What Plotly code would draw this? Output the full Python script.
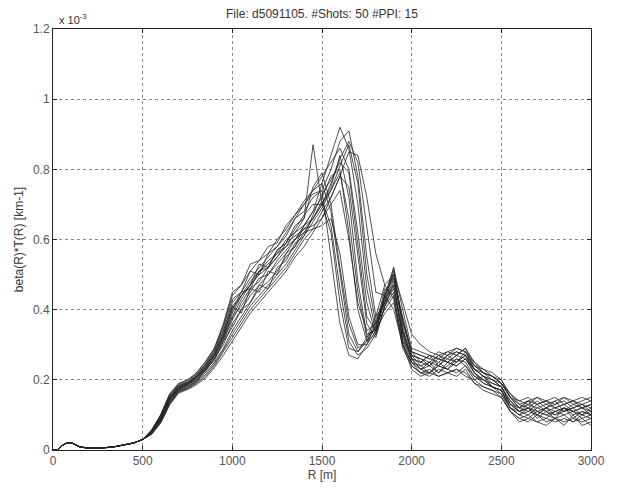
import plotly.graph_objects as go

# Range grid (m)
R_near = [0, 25, 50, 75, 100, 125, 150, 200, 250, 300, 350, 400, 450, 500]
R_far = list(range(550, 3001, 50))

# Near-range signal common to all shots (units of 1e-3 km^-1)
near_vals = [0.0, 0.0, 0.012, 0.020, 0.021, 0.016, 0.009, 0.005, 0.005, 0.007, 0.010, 0.014, 0.020, 0.030]

# Per-shot profiles from 550 m to 3000 m (units of 1e-3 km^-1)
shot_A1 = [0.055,0.098,0.155,0.185,0.195,0.215,0.245,0.285,0.35,0.43,0.45,0.51,0.50,0.56,0.58,0.61,0.66,0.68,0.72,
           0.74,0.55,0.36,0.27,0.26,0.30,0.36,0.44,0.40,0.30,0.25,
           0.24,0.22,0.25,0.23,0.26,0.25,0.21,0.20,0.18,0.17,0.12,0.10,0.12,0.09,0.11,0.09,0.12,0.09,0.11,0.10]
shot_A2 = [0.05,0.09,0.148,0.178,0.19,0.205,0.235,0.275,0.33,0.40,0.45,0.46,0.51,0.52,0.57,0.59,0.63,0.67,0.70,
           0.70,0.62,0.42,0.29,0.28,0.32,0.38,0.47,0.43,0.29,0.24,
           0.22,0.23,0.21,0.22,0.23,0.21,0.20,0.18,0.17,0.16,0.11,0.09,0.08,0.10,0.08,0.09,0.07,0.10,0.07,0.08]
shot_A3 = [0.048,0.085,0.14,0.172,0.185,0.20,0.225,0.26,0.31,0.37,0.42,0.46,0.48,0.52,0.55,0.58,0.62,0.64,0.68,
           0.76,0.68,0.50,0.33,0.28,0.31,0.35,0.42,0.46,0.33,0.26,
           0.25,0.27,0.24,0.27,0.25,0.28,0.23,0.21,0.20,0.18,0.14,0.12,0.14,0.11,0.12,0.14,0.11,0.12,0.13,0.12]
shot_B1 = [0.052,0.092,0.15,0.18,0.19,0.21,0.24,0.27,0.32,0.38,0.41,0.45,0.49,0.50,0.54,0.57,0.60,0.64,0.68,
           0.72,0.78,0.80,0.62,0.40,0.31,0.33,0.45,0.49,0.31,0.27,
           0.26,0.25,0.27,0.26,0.28,0.27,0.24,0.22,0.21,0.19,0.15,0.13,0.12,0.14,0.12,0.13,0.14,0.12,0.13,0.11]
shot_B2 = [0.046,0.082,0.135,0.168,0.178,0.195,0.22,0.25,0.29,0.34,0.38,0.42,0.46,0.48,0.51,0.55,0.58,0.62,0.66,
           0.70,0.75,0.84,0.72,0.48,0.33,0.34,0.43,0.52,0.35,0.26,
           0.23,0.24,0.22,0.25,0.24,0.26,0.22,0.19,0.18,0.17,0.13,0.11,0.10,0.12,0.11,0.10,0.12,0.11,0.10,0.12]
shot_B3 = [0.045,0.078,0.13,0.165,0.175,0.19,0.21,0.24,0.28,0.32,0.36,0.40,0.43,0.46,0.49,0.52,0.56,0.60,0.63,
           0.68,0.72,0.78,0.75,0.55,0.36,0.32,0.41,0.48,0.38,0.28,
           0.27,0.26,0.28,0.27,0.29,0.28,0.25,0.23,0.22,0.20,0.16,0.14,0.15,0.13,0.14,0.15,0.13,0.14,0.15,0.14]
shot_B4 = [0.05,0.088,0.145,0.175,0.188,0.205,0.232,0.268,0.32,0.39,0.44,0.47,0.51,0.53,0.56,0.60,0.62,0.66,0.87,
           0.70,0.74,0.79,0.66,0.45,0.32,0.35,0.46,0.44,0.30,0.25,
           0.22,0.21,0.23,0.22,0.21,0.23,0.19,0.18,0.17,0.15,0.11,0.09,0.10,0.08,0.09,0.08,0.09,0.08,0.09,0.07]
shot_C1 = [0.056,0.10,0.158,0.188,0.198,0.218,0.25,0.29,0.355,0.44,0.47,0.51,0.54,0.56,0.60,0.63,0.67,0.70,0.73,
           0.74,0.80,0.88,0.91,0.78,0.55,0.38,0.42,0.51,0.36,0.28,
           0.25,0.27,0.26,0.25,0.27,0.29,0.24,0.22,0.20,0.19,0.15,0.12,0.13,0.12,0.13,0.12,0.11,0.13,0.12,0.13]
shot_C2 = [0.058,0.10,0.16,0.19,0.20,0.22,0.252,0.29,0.36,0.45,0.47,0.53,0.54,0.58,0.59,0.64,0.67,0.71,0.74,
           0.76,0.84,0.92,0.86,0.70,0.46,0.34,0.44,0.50,0.34,0.27,
           0.24,0.25,0.24,0.26,0.25,0.27,0.23,0.21,0.19,0.18,0.14,0.11,0.12,0.10,0.12,0.11,0.12,0.10,0.11,0.10]
shot_C3 = [0.047,0.083,0.138,0.17,0.18,0.198,0.226,0.26,0.30,0.36,0.40,0.44,0.47,0.50,0.53,0.56,0.60,0.63,0.66,
           0.70,0.76,0.83,0.88,0.82,0.64,0.45,0.44,0.52,0.40,0.29,
           0.28,0.27,0.26,0.28,0.27,0.29,0.25,0.22,0.21,0.19,0.16,0.13,0.14,0.15,0.13,0.14,0.15,0.13,0.14,0.15]
shot_C4 = [0.045,0.076,0.128,0.162,0.172,0.186,0.205,0.235,0.27,0.31,0.35,0.39,0.42,0.45,0.48,0.51,0.55,0.58,0.62,
           0.66,0.72,0.78,0.85,0.84,0.72,0.56,0.47,0.50,0.42,0.33,
           0.30,0.28,0.27,0.28,0.29,0.28,0.24,0.23,0.21,0.20,0.15,0.12,0.14,0.13,0.14,0.12,0.13,0.14,0.12,0.13]
shot_M1 = [0.049,0.087,0.143,0.174,0.186,0.202,0.23,0.265,0.315,0.38,0.43,0.47,0.50,0.52,0.55,0.59,0.61,0.63,0.64,
           0.66,0.70,0.74,0.60,0.42,0.34,0.36,0.40,0.44,0.31,0.24,
           0.22,0.22,0.24,0.23,0.22,0.24,0.21,0.19,0.18,0.16,0.12,0.10,0.09,0.11,0.10,0.09,0.10,0.08,0.10,0.09]
shot_M2 = [0.051,0.09,0.147,0.177,0.189,0.207,0.236,0.272,0.325,0.40,0.44,0.48,0.51,0.54,0.56,0.58,0.60,0.62,0.63,
           0.64,0.66,0.56,0.38,0.30,0.30,0.34,0.39,0.42,0.30,0.23,
           0.21,0.22,0.21,0.22,0.23,0.22,0.19,0.17,0.16,0.15,0.11,0.08,0.09,0.08,0.07,0.09,0.08,0.09,0.08,0.09]
shot_M3 = [0.054,0.095,0.152,0.183,0.193,0.212,0.243,0.28,0.34,0.42,0.45,0.49,0.52,0.55,0.58,0.62,0.66,0.70,0.74,
           0.78,0.82,0.86,0.80,0.62,0.42,0.33,0.41,0.47,0.33,0.26,
           0.25,0.24,0.26,0.25,0.24,0.26,0.22,0.20,0.19,0.18,0.13,0.11,0.12,0.11,0.10,0.11,0.12,0.11,0.12,0.11]
shot_D1 = [0.05,0.088,0.14,0.176,0.184,0.21,0.228,0.27,0.33,0.41,0.39,0.46,0.45,0.51,0.50,0.56,0.58,0.64,0.66,
           0.71,0.64,0.46,0.31,0.27,0.29,0.33,0.41,0.45,0.34,0.26,
           0.23,0.25,0.22,0.24,0.26,0.24,0.20,0.21,0.18,0.17,0.12,0.11,0.13,0.10,0.12,0.10,0.11,0.12,0.10,0.11]
shot_D2 = [0.048,0.084,0.14,0.17,0.183,0.196,0.23,0.255,0.31,0.35,0.40,0.42,0.47,0.46,0.52,0.54,0.59,0.61,0.67,
           0.73,0.77,0.82,0.79,0.58,0.38,0.34,0.44,0.50,0.37,0.27,
           0.26,0.24,0.27,0.25,0.27,0.26,0.23,0.21,0.20,0.18,0.13,0.12,0.11,0.13,0.11,0.12,0.13,0.11,0.12,0.10]
shot_D3 = [0.053,0.094,0.15,0.182,0.192,0.21,0.24,0.28,0.34,0.41,0.44,0.47,0.53,0.52,0.57,0.59,0.64,0.66,0.75,
           0.79,0.70,0.52,0.36,0.29,0.31,0.37,0.43,0.47,0.32,0.25,
           0.23,0.22,0.24,0.23,0.25,0.27,0.22,0.20,0.18,0.17,0.12,0.10,0.11,0.10,0.09,0.11,0.10,0.11,0.09,0.10]
shot_D4 = [0.047,0.08,0.133,0.166,0.176,0.192,0.215,0.245,0.285,0.33,0.37,0.41,0.44,0.47,0.50,0.53,0.57,0.61,0.65,
           0.69,0.74,0.81,0.87,0.76,0.50,0.36,0.42,0.49,0.37,0.28,
           0.27,0.26,0.25,0.27,0.28,0.27,0.23,0.22,0.21,0.19,0.15,0.14,0.13,0.15,0.14,0.13,0.15,0.14,0.13,0.14]

shots = [shot_A1, shot_A2, shot_A3, shot_B1, shot_B2, shot_B3, shot_B4,
         shot_C1, shot_C2, shot_C3, shot_C4, shot_M1, shot_M2, shot_M3,
         shot_D1, shot_D2, shot_D3, shot_D4]

y_ticks = [0, 0.2, 0.4, 0.6, 0.8, 1.0, 1.2]
y_tick_labels = ["0", "0.2", "0.4", "0.6", "0.8", "1", "1.2"]
x_ticks = [0, 500, 1000, 1500, 2000, 2500, 3000]

fig = go.Figure()
for s in shots:
    fig.add_trace(go.Scatter(
        x=R_near + R_far, y=near_vals + s, mode="lines",
        line=dict(color="#262626", width=0.8), showlegend=False, hoverinfo="skip"))

font = "Liberation Sans, Arial, sans-serif"
axis_common = dict(
    showline=True, linecolor="#222", linewidth=1, mirror="ticks",
    ticks="inside", ticklen=4, tickcolor="#222",
    showgrid=True, gridcolor="#8a8a8a", gridwidth=1, griddash="3px,3px",
    zeroline=False, tickfont=dict(family=font, size=12, color="#555"),
)

fig.update_layout(
    width=621, height=491,
    margin=dict(l=53, r=30, t=29, b=35),
    paper_bgcolor="white", plot_bgcolor="white",
    font=dict(family=font, size=12, color="#333"),
    title=dict(text="File: d5091105. #Shots: 50 #PPI: 15", x=(53 + 269) / 621, xanchor="center",
               y=1 - 14 / 491, yanchor="middle", font=dict(family=font, size=12, color="#333")),
    xaxis=dict(range=[0, 3000], tickvals=x_ticks,
               title=dict(text="R [m]", standoff=2, font=dict(family=font, size=12, color="#444")),
               **axis_common),
    yaxis=dict(range=[0, 1.2], tickvals=y_ticks, ticktext=y_tick_labels,
               title=dict(text="beta(R)*T(R) [km-1]", standoff=6, font=dict(family=font, size=12, color="#333")),
               **axis_common),
    annotations=[dict(text="x 10<sup>-3</sup>", xref="paper", yref="paper", x=0.0, y=1.0,
                      xanchor="left", yanchor="bottom", showarrow=False, xshift=4, yshift=1,
                      font=dict(family=font, size=11, color="#333"))],
)

fig.write_html("out.html")
